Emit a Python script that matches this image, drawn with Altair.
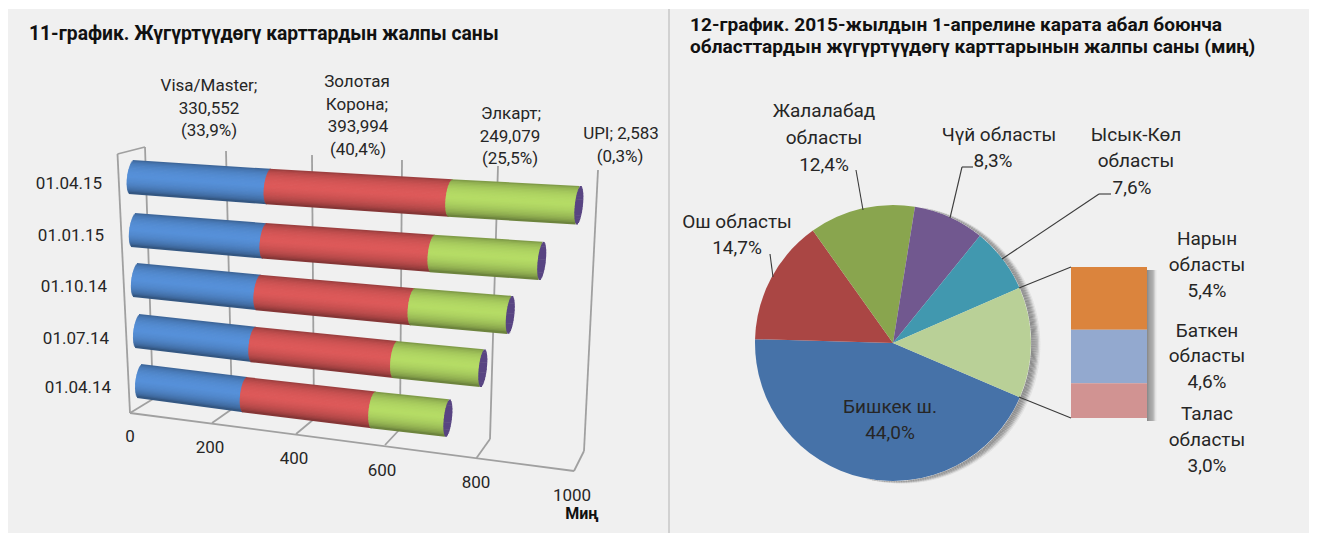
import math
import altair as alt
import pandas as pd

# ---------- data ----------
ROWS = ["01.04.15", "01.01.15", "01.10.14", "01.07.14", "01.04.14"]
VISA = [330.552, 319.5, 303.5, 289.5, 266.5]
GOLD = [393.994, 371, 347, 325, 301]
ELCART = [249.079, 217, 199, 183, 160]
UPI = [2.583, 2.5, 2.4, 2.3, 2.2]
TICKS = [0, 200, 400, 600, 800, 1000]

REGIONS = ["Бишкек ш.", "Ош областы", "Жалалабад областы", "Чүй областы", "Ысык-Көл областы", "Башка"]
SHARES = [44.0, 14.7, 12.4, 8.3, 7.6, 13.0]
SUB_REGIONS = ["Нарын областы", "Баткен областы", "Талас областы"]
SUB_SHARES = [5.4, 4.6, 3.0]

# ---------- layout / style ----------
W, H = 1301, 525
OX, OY = 8, 8
BLUE, RED, GREEN, PURPLE = (85, 142, 213), (217, 88, 88), (178, 216, 100), (88, 68, 130)
PIE_COLORS = ["#4672a8", "#aa4644", "#89a54e", "#71588f", "#4198af", "#b9d097"]
SUB_COLORS = ["#db843d", "#93a9cf", "#d19392"]
SHADOW_TONES = ["#8c8c8c", "#8c8c8c", "#909090", "#989898", "#a6a6a6", "#b8b8b8", "#cecece", "#e2e2e2"]
GRID = "#a0a0a0"
PANEL = "#f0f0f0"
FONT = "Roboto"

xs = alt.Scale(domain=[0, W], range=[0, W])
ys = alt.Scale(domain=[0, H], range=[0, H])


def persp(v):
    u = v / 1000
    return 381.8 * u / (1 - 0.14 * u)


ROW_Y = [176, 229, 279, 330, 380]
ROW_SLOPE = [0.029, 0.034, 0.041, 0.0465, 0.051]


def bar_point(row, v, t):
    g = (ROW_Y[row] - 150) / 255
    left = 131 + 10.5 * g
    s = (462 - 24.5 * g) / 444
    half = 16.5 + 2.5 * v / 1000
    return left + s * persp(v) - 2 * t - OX, ROW_Y[row] + ROW_SLOPE[row] * v + half * t - OY, half


def shade(c, t):
    f = 0.62 + 0.40 * math.sqrt(max(0, 1 - t * t))
    if t > 0:
        f -= 0.12 * t
    return "#%02x%02x%02x" % tuple(min(255, int(x * f)) for x in c)


recs = []
N = 26
CAP = 5.0
for r in range(len(ROWS)):
    edges = [0, VISA[r], VISA[r] + GOLD[r], VISA[r] + GOLD[r] + ELCART[r]]
    for i, col in enumerate([BLUE, RED, GREEN]):
        for k in range(N):
            t = -1 + (2 * k + 1) / N
            bulge = CAP * math.sqrt(1 - t * t)
            x0, y0, h0 = bar_point(r, edges[i], t)
            x1, y1, h1 = bar_point(r, edges[i + 1], t)
            recs.append(dict(x=x0 - bulge, y=y0, x2=x1, y2=y1, c=shade(col, t), w=2 * h0 / N + 0.9))
    end = edges[3] + UPI[r]
    for k in range(N):
        t = -1 + (2 * k + 1) / N
        bulge = 4 * math.sqrt(1 - t * t)
        x1, y1, h1 = bar_point(r, end, t)
        c = "#%02x%02x%02x" % PURPLE
        recs.append(dict(x=x1 - bulge, y=y1, x2=x1 + bulge, y2=y1 + 0.01, c=c, w=2 * h1 / N + 0.6))
bars_df = pd.DataFrame(recs)

BACK_TOP = [(145, 146), (226, 150), (312, 154), (402, 159), (498, 165), (598, 169)]
BACK_BOT = [(153, 398), (232, 408), (314, 418), (400, 428), (490, 438), (584, 450)]
FRONT = [(130, 412), (212, 422), (296, 433), (385, 444), (476.5, 457), (574, 470)]
seg = []
for i in range(len(TICKS)):
    seg.append((*BACK_TOP[i], *BACK_BOT[i]))
    seg.append((*BACK_BOT[i], *FRONT[i]))
seg.append((*FRONT[0], *FRONT[-1]))
seg.append((117.5, 153, 130, 412))
seg.append((117.5, 153, 145, 146))
grid_df = pd.DataFrame(
    [dict(x=a - OX, y=b - OY, x2=c - OX, y2=d - OY) for a, b, c, d in seg]
)


def rules(df, **kw):
    return alt.Chart(df).mark_rule(**kw).encode(
        x=alt.X("x:Q", scale=xs, axis=None),
        y=alt.Y("y:Q", scale=ys, axis=None),
        x2="x2:Q",
        y2="y2:Q",
    )


grid_layer = rules(grid_df, color=GRID, strokeWidth=1.8)
bars_layer = alt.Chart(bars_df).mark_rule(strokeCap="butt").encode(
    x=alt.X("x:Q", scale=xs, axis=None),
    y=alt.Y("y:Q", scale=ys, axis=None),
    x2="x2:Q",
    y2="y2:Q",
    color=alt.Color("c:N", scale=None, legend=None),
    size=alt.Size("w:Q", scale=None, legend=None),
)

divider = rules(pd.DataFrame([dict(x=661, y=0, x2=661, y2=H)]), color="#bdbdbd", strokeWidth=1.2)

# ---------- pie ----------
CX, CY, R = 893 - OX, 342 - OY, 138
START = math.radians(113.2)
pie_df = pd.DataFrame({"name": REGIONS, "share": SHARES, "k": range(len(SHARES)), "c": PIE_COLORS})

pie_layer = alt.Chart(pie_df).mark_arc(radius=R).encode(
    theta=alt.Theta("share:Q", stack=True, scale=alt.Scale(domain=[0, 100], range=[START, START + 2 * math.pi])),
    order=alt.Order("k:Q"),
    color=alt.Color("c:N", scale=None, legend=None),
    x=alt.value(CX),
    y=alt.value(CY),
)

# soft shadow outside the pie's right-hand rim, painted after the pie
rim = []
for a in range(-80, 110):
    rad = math.radians(a)
    reach = max(0.0, math.cos(math.radians(a - 12)))
    for i, tone in enumerate(SHADOW_TONES):
        r0 = R + 0.3 + i * reach * 1.15
        r1 = R + 0.3 + (i + 1) * reach * 1.15
        rim.append(dict(
            x=CX + r0 * math.cos(rad), y=CY + r0 * math.sin(rad),
            x2=CX + r1 * math.cos(rad), y2=CY + r1 * math.sin(rad),
            c=tone, w=3.2,
        ))
rim_df = pd.DataFrame(rim)
shadow_layer = alt.Chart(rim_df).mark_rule(strokeCap="butt").encode(
    x=alt.X("x:Q", scale=xs, axis=None),
    y=alt.Y("y:Q", scale=ys, axis=None),
    x2="x2:Q",
    y2="y2:Q",
    color=alt.Color("c:N", scale=None, legend=None),
    size=alt.Size("w:Q", scale=None, legend=None),
)

# stacked column of the split-out slice
BX0, BX1, BY0, UNIT = 1071 - OX, 1147 - OX, 266 - OY, 151 / sum(SUB_SHARES)
rect_recs, cum = [], 0
for name, s, c in zip(SUB_REGIONS, SUB_SHARES, SUB_COLORS):
    rect_recs.append(dict(name=name, x=BX0, x2=BX1, y=BY0 + cum * UNIT, y2=BY0 + (cum + s) * UNIT, c=c))
    cum += s
for i, tone in enumerate(SHADOW_TONES):
    rect_recs.append(dict(name="shadow", x=BX1 + i * 1.15, x2=BX1 + (i + 1) * 1.15 + 0.2, y=BY0 + 3,
                          y2=BY0 + cum * UNIT + 3, c=tone))
rect_df = pd.DataFrame(rect_recs)

rect_layer = alt.Chart(rect_df).mark_rect().encode(
    x=alt.X("x:Q", scale=xs, axis=None),
    y=alt.Y("y:Q", scale=ys, axis=None),
    x2="x2:Q",
    y2="y2:Q",
    color=alt.Color("c:N", scale=None, legend=None),
)

LEADERS = [
    (770, 253, 773, 276), (856, 169, 863, 209),
    (973, 166, 962, 166), (962, 166, 950, 217),
    (1111, 193, 1099, 193), (1099, 193, 1002, 258),
    (1019, 287, 1071, 266), (1019, 396, 1071, 417),
]
leaders = rules(
    pd.DataFrame([dict(x=a - OX, y=b - OY, x2=c - OX, y2=d - OY) for a, b, c, d in LEADERS]),
    color="#3a3a3a", strokeWidth=1.1,
)


# ---------- text ----------
def texts(items, size, weight="normal", align="center", color="#262626"):
    df = pd.DataFrame([dict(t=t, x=x - OX, y=y - OY) for t, x, y in items])
    return alt.Chart(df).mark_text(
        font=FONT, fontSize=size, fontWeight=weight, align=align, baseline="middle", color=color
    ).encode(
        x=alt.X("x:Q", scale=xs, axis=None),
        y=alt.Y("y:Q", scale=ys, axis=None),
        text="t:N",
    )


title_left = texts([("11-график. Жүгүртүүдөгү карттардын жалпы саны", 29, 33)], 19.3, "bold", "left", "#111111")
title_right = texts(
    [
        ("12-график. 2015-жылдын 1-апрелине карата абал боюнча", 690, 24),
        ("областтардын жүгүртүүдөгү карттарынын жалпы саны (миң)", 690, 46),
    ],
    19.1, "bold", "left", "#111111",
)
left_labels = texts(
    [
        ("Visa/Master;", 209, 85), ("330,552", 209, 108), ("(33,9%)", 209, 130),
        ("Золотая", 357, 81), ("Корона;", 357, 104), ("393,994", 358, 126), ("(40,4%)", 358, 149),
        ("Элкарт;", 511, 113), ("249,079", 510, 136), ("(25,5%)", 510, 158),
        ("UPI; 2,583", 621, 133), ("(0,3%)", 620, 156),
        (ROWS[0], 69, 183), (ROWS[1], 71, 235), (ROWS[2], 74, 286), (ROWS[3], 76, 338), (ROWS[4], 78, 387),
        (str(TICKS[0]), 130, 436), (str(TICKS[1]), 210, 447), (str(TICKS[2]), 294, 458),
        (str(TICKS[3]), 382, 470), (str(TICKS[4]), 476, 482), (str(TICKS[5]), 572, 495),
    ],
    17,
)
min_label = texts([("Миң", 582, 513)], 16, "bold", "center", "#111111")
right_labels = texts(
    [
        ("Жалалабад", 824, 110), ("областы", 824, 137), ("12,4%", 824, 164),
        ("Чүй областы", 999, 134), ("8,3%", 993, 160),
        ("Ысык-Көл", 1136, 134), ("областы", 1136, 160), ("7,6%", 1132, 187),
        ("Ош областы", 737, 221), ("14,7%", 737, 247),
        ("Нарын", 1207, 238), ("областы", 1207, 264), ("5,4%", 1207, 290),
        ("Баткен", 1207, 330), ("областы", 1207, 355), ("4,6%", 1207, 381),
        ("Талас", 1207, 413), ("областы", 1207, 439), ("3,0%", 1207, 465),
        ("Бишкек ш.", 890, 406), ("44,0%", 890, 432),
    ],
    19,
)

chart = alt.layer(
    grid_layer, divider, bars_layer,
    pie_layer, shadow_layer,
    rect_layer, leaders,
    title_left, title_right, left_labels, min_label, right_labels,
).properties(
    width=W, height=H, padding=0,
    background="white",
).configure_view(fill=PANEL, stroke=None)

chart.save("out.html", embed_options={"renderer": "svg", "actions": False})
